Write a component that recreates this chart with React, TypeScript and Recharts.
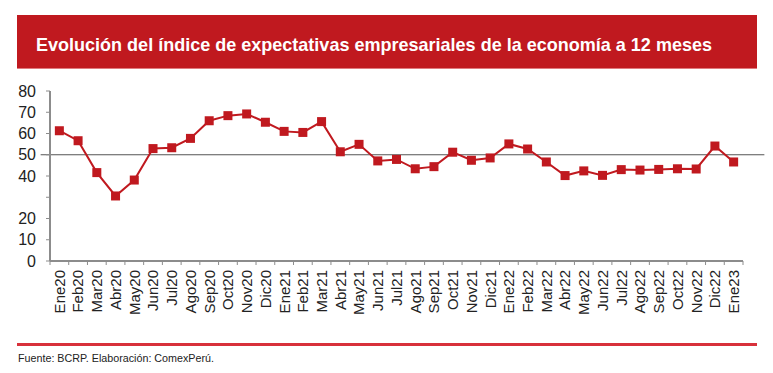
import {
  LineChart,
  Line,
  XAxis,
  YAxis,
  ReferenceLine,
} from "recharts";

const MONTHS = [
  "Ene20", "Feb20", "Mar20", "Abr20", "May20", "Jun20", "Jul20", "Ago20", "Sep20", "Oct20", "Nov20", "Dic20",
  "Ene21", "Feb21", "Mar21", "Abr21", "May21", "Jun21", "Jul21", "Ago21", "Sep21", "Oct21", "Nov21", "Dic21",
  "Ene22", "Feb22", "Mar22", "Abr22", "May22", "Jun22", "Jul22", "Ago22", "Sep22", "Oct22", "Nov22", "Dic22",
  "Ene23",
];

const INDEX_VALUES = [
  61.3, 56.6, 41.6, 30.6, 38.1, 52.9, 53.3, 57.7, 66.0, 68.4, 69.2, 65.3,
  61.0, 60.5, 65.6, 51.4, 54.9, 47.1, 47.8, 43.4, 44.4, 51.2, 47.4, 48.5,
  55.1, 52.7, 46.6, 40.2, 42.4, 40.3, 43.0, 42.8, 43.1, 43.4, 43.3, 54.1,
  46.6,
];

const Y_TICKS = [0, 10, 20, 30, 40, 50, 60, 70, 80];
const THRESHOLD = 50;

const TITLE = "Evolución del índice de expectativas empresariales de la economía a 12 meses";
const SOURCE = "Fuente: BCRP. Elaboración: ComexPerú.";

const data = MONTHS.map((m, i) => ({ month: m, value: INDEX_VALUES[i] }));

const RED = "#c0191f";
const ARIAL = "'Liberation Sans', Arial, sans-serif";

// half of the category step, so tick marks sit between the months
const HALF_STEP = 9.36;

// rotated month label, reads bottom to top; tick mark drawn at the band edge
function MonthTick(props: any) {
  const { x, y, payload, index } = props;
  const axisY = y - 9;
  const last = index === MONTHS.length - 1;
  return (
    <g>
      <line x1={x - HALF_STEP} y1={axisY} x2={x - HALF_STEP} y2={axisY + 4} stroke="#8c8c8c" />
      {last && (
        <line x1={x + HALF_STEP} y1={axisY} x2={x + HALF_STEP} y2={axisY + 4} stroke="#8c8c8c" />
      )}
      <g transform={`translate(${x},${y})`}>
        <text
          transform="rotate(-90)"
          x={0}
          y={0}
          dy="0.36em"
          textAnchor="end"
          fontSize={15}
          fontFamily={ARIAL}
          fill="#222"
        >
          {payload.value}
        </text>
      </g>
    </g>
  );
}

// line at 50 runs a bit past the end of the axis
function ThresholdLine(props: any) {
  const { x1, x2, y1, y2 } = props;
  return <line x1={x1 - HALF_STEP} y1={y1} x2={x2 + HALF_STEP + 12} y2={y2} stroke="#555" strokeWidth={1} />;
}

function SquareDot(props: any) {
  const { cx, cy } = props;
  if (cx == null || cy == null) return null;
  return <rect x={cx - 4.5} y={cy - 4.5} width={9} height={9} fill={RED} />;
}

export default function App() {
  return (
    <div
      style={{
        position: "absolute",
        left: 0,
        top: 0,
        width: 773,
        height: 373,
        background: "#fff",
        overflow: "hidden",
      }}
    >
      <div style={{ position: "absolute", left: 0, top: 0 }}>
        <LineChart
          width={773}
          height={373}
          data={data}
          margin={{ top: 91, right: 30, left: 10, bottom: 0 }}
        >
          <rect x={17} y={15} width={740} height={54} fill={RED} />
          <rect x={17} y={68} width={740} height={1} fill="#e07a7e" />
          <text
            x={36}
            y={50.5}
            fill="#fff"
            fontFamily={ARIAL}
            fontWeight="bold"
            fontSize={19}
            textLength={676}
            lengthAdjust="spacingAndGlyphs"
          >
            {TITLE}
          </text>
          <XAxis
            dataKey="month"
            interval={0}
            height={112}
            padding={{ left: HALF_STEP, right: HALF_STEP }}
            tick={<MonthTick />}
            tickSize={4}
            tickMargin={5}
            tickLine={false}
            axisLine={{ stroke: "#8c8c8c", strokeWidth: 2 }}
          />
          <YAxis
            type="number"
            domain={[0, 80]}
            ticks={Y_TICKS}
            interval={0}
            width={40}
            tickSize={4}
            tickMargin={10}
            tickFormatter={(v: number) => (v === 30 ? "" : String(v))}
            tick={{ fontSize: 16, fontFamily: ARIAL, fill: "#222" }}
            axisLine={{ stroke: "#8c8c8c", strokeWidth: 2 }}
            tickLine={{ stroke: "#8c8c8c" }}
          />
          <ReferenceLine y={THRESHOLD} shape={<ThresholdLine />} />
          <Line
            type="linear"
            dataKey="value"
            stroke={RED}
            strokeWidth={2}
            dot={<SquareDot />}
            activeDot={false}
            isAnimationActive={false}
          />
          <rect x={17} y={343} width={740} height={3} fill="#d8313b" />
          <text
            x={18}
            y={362}
            fill="#222"
            fontFamily={ARIAL}
            fontSize={11.5}
            textLength={196}
            lengthAdjust="spacingAndGlyphs"
          >
            {SOURCE}
          </text>
        </LineChart>
      </div>
    </div>
  );
}
